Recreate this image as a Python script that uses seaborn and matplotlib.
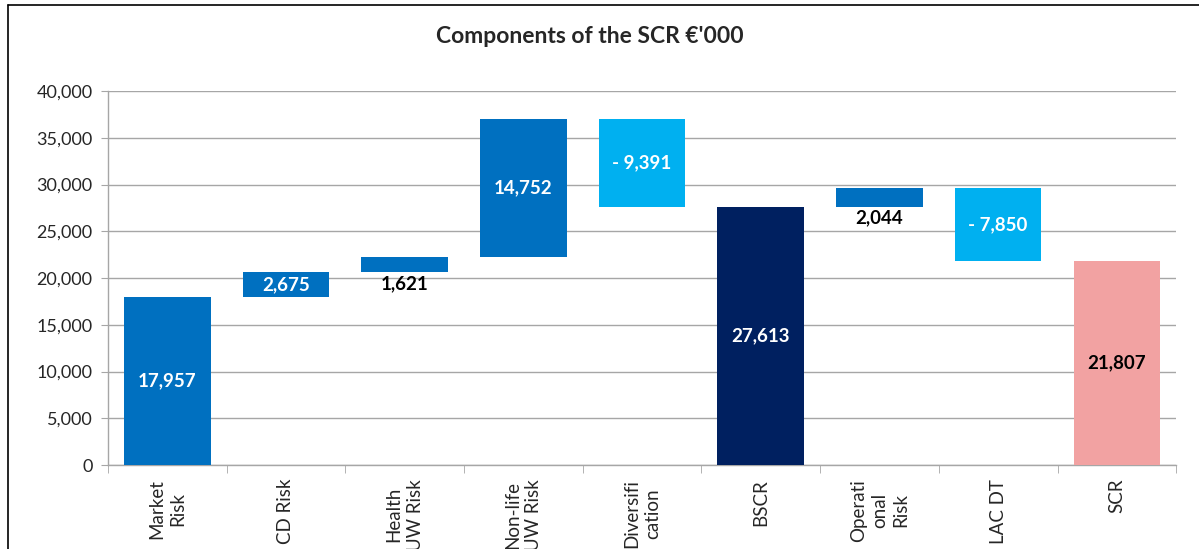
import matplotlib
matplotlib.use("Agg")
import matplotlib.pyplot as plt
from matplotlib.lines import Line2D
from matplotlib.ticker import FuncFormatter, FixedLocator
import seaborn as sns

categories = ["Market\nRisk", "CD Risk", "Health\nUW Risk", "Non-life\nUW Risk",
              "Diversifi\ncation", "BSCR", "Operati\nonal\nRisk", "LAC DT", "SCR"]
values = [17957, 2675, 1621, 14752, -9391, 27613, 2044, -7850, 21807]
is_total = [False, False, False, False, False, True, False, False, True]
colors = ["#0070C0", "#0070C0", "#0070C0", "#0070C0", "#00B0F0",
          "#002060", "#0070C0", "#00B0F0", "#F2A2A2"]
label_text = ["17,957", "2,675", "1,621", "14,752", "- 9,391",
              "27,613", "2,044", "- 7,850", "21,807"]
label_color = ["white", "white", "black", "white", "white",
               "white", "black", "white", "black"]
label_below = [False, False, True, False, False, False, True, False, False]

# waterfall: bottoms and heights
bottoms, heights = [], []
running = 0
for v, tot in zip(values, is_total):
    if tot:
        bottoms.append(0)
        heights.append(v)
        running = v
    else:
        start = running
        running = running + v
        bottoms.append(min(start, running))
        heights.append(abs(v))

sns.set_style("white")
plt.rcParams["font.family"] = ["Lato", "DejaVu Sans"]

fig = plt.figure(figsize=(11.99, 5.49), dpi=100)
ax = fig.add_axes([0.090, 0.153, 0.891, 0.681])

sns.barplot(x=categories, y=heights, bottom=bottoms, color=colors[0],
            width=0.73, saturation=1, ax=ax, zorder=3)
for patch, c in zip(ax.patches, colors):
    patch.set_facecolor(c)
    patch.set_edgecolor(c)
    patch.set_linewidth(0)

for i, (b, h) in enumerate(zip(bottoms, heights)):
    if label_below[i]:
        y = b - 1200
    else:
        y = b + h / 2
    ax.text(i, y, label_text[i], ha="center", va="center", fontsize=13.5,
            fontweight="bold", color=label_color[i], zorder=4)

ax.set_ylim(0, 40000)
ax.set_xlim(-0.5, len(categories) - 0.5)
ax.yaxis.set_major_locator(FixedLocator(range(0, 40001, 5000)))
ax.yaxis.set_major_formatter(FuncFormatter(lambda v, p: f"{int(v):,}"))
ax.grid(axis="y", color="#A6A6A6", linewidth=1, zorder=0)
ax.set_axisbelow(True)

for s in ["top", "right"]:
    ax.spines[s].set_visible(False)
for s in ["left", "bottom"]:
    ax.spines[s].set_color("#A6A6A6")
    ax.spines[s].set_linewidth(1)

ax.tick_params(axis="y", length=5, color="#A6A6A6", labelsize=13, pad=6, left=True)
ax.tick_params(axis="x", which="major", length=0, labelsize=13.5, pad=10)
ax.set_xticks([i - 0.5 for i in range(len(categories) + 1)], minor=True)
ax.tick_params(axis="x", which="minor", length=6, color="#A6A6A6", bottom=True)
ax.set_xticks(range(len(categories)))
ax.set_xticklabels(categories, rotation=90, ha="center", va="top",
                   multialignment="center", linespacing=1.3)
ax.set_xlabel("")
ax.set_ylabel("")

fig.text(0.492, 0.933, "Components of the SCR €'000", ha="center", va="center",
         fontsize=16.5, fontweight="bold")

# chart frame (left and top edges visible)
fig.add_artist(Line2D([8 / 1199, 8 / 1199], [0, 1 - 5 / 549], color="black",
                      linewidth=1.2, transform=fig.transFigure))
fig.add_artist(Line2D([8 / 1199, 1], [1 - 5 / 549, 1 - 5 / 549], color="black",
                      linewidth=1.2, transform=fig.transFigure))

fig.savefig("out.png", dpi=100)
